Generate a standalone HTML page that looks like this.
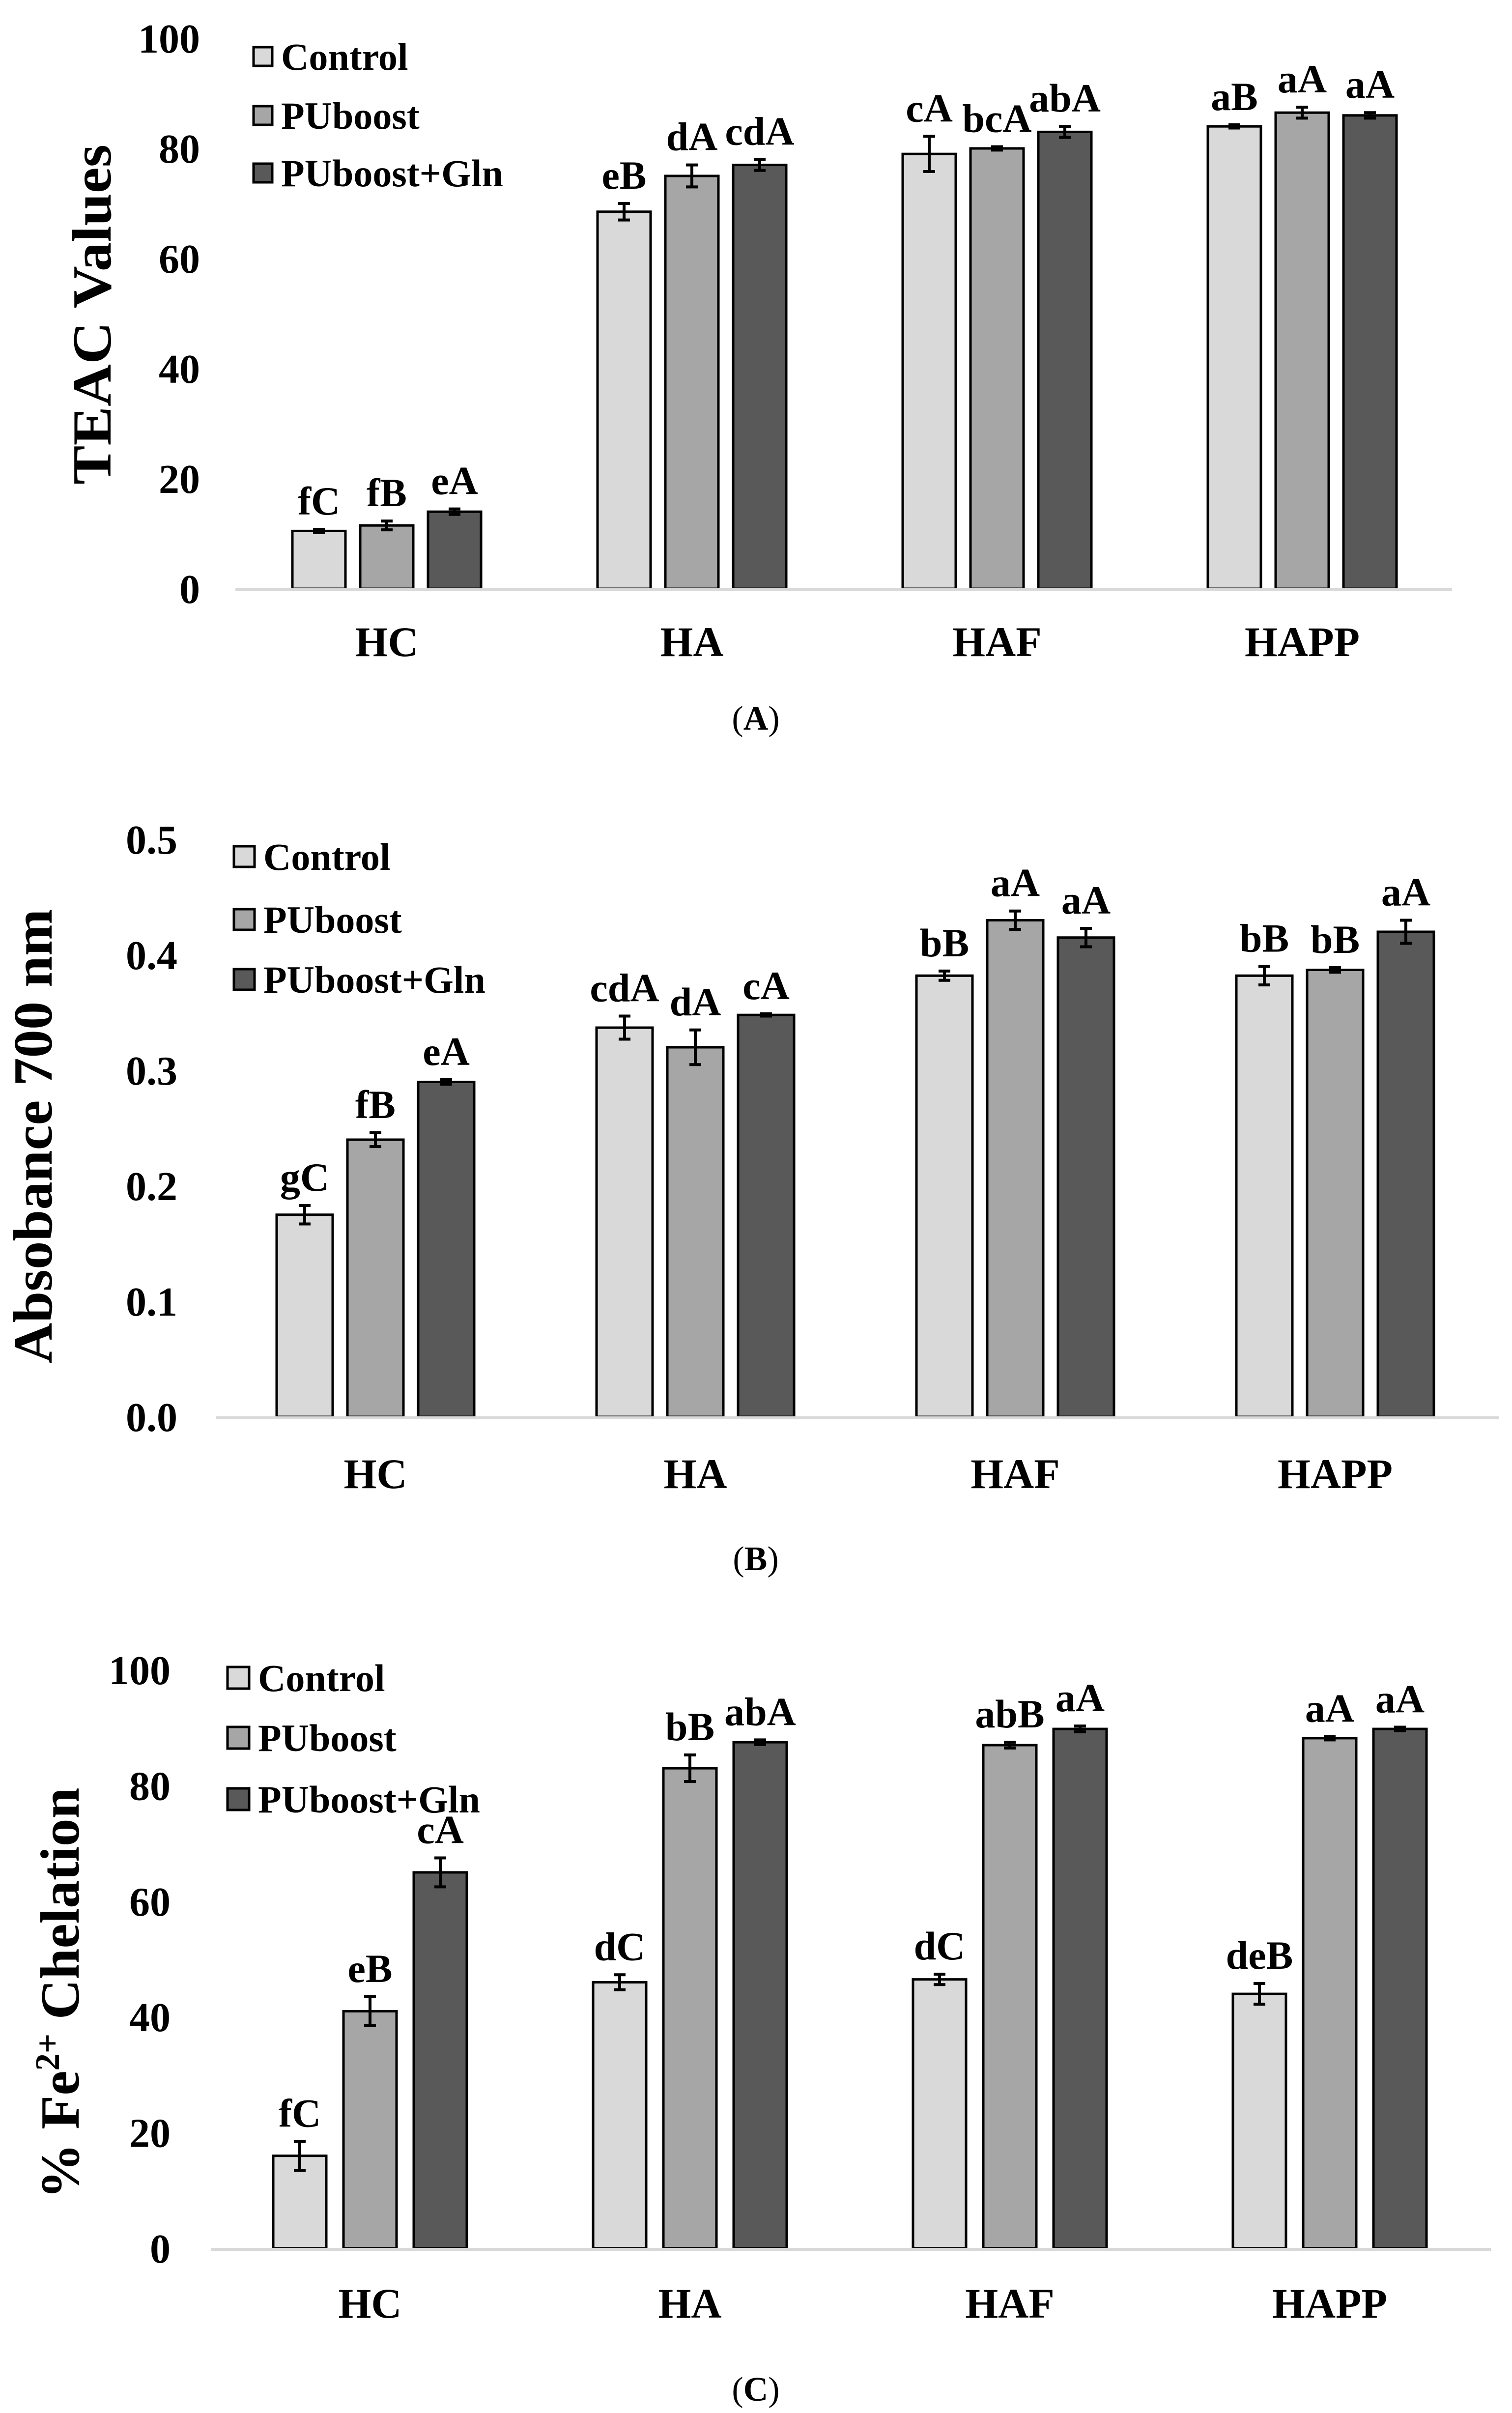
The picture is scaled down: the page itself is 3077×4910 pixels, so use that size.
<!DOCTYPE html>
<html><head><meta charset="utf-8">
<style>
html,body{margin:0;padding:0;background:#fff;}
svg{display:block;font-family:"Liberation Serif",serif;font-weight:bold;}
</style></head>
<body>
<svg id="fig" width="3077" height="4910" viewBox="0 0 3077 4910" xmlns="http://www.w3.org/2000/svg"></svg>
<script>
const categories = ["HC","HA","HAF","HAPP"];
const seriesNames = ["Control","PUboost","PUboost+Gln"];
const colors = ["#d9d9d9","#a6a6a6","#595959"];

// Panel A: TEAC
const aControl = [10.5, 68.5, 79, 84];
const aPUboost = [11.5, 75, 80, 86.5];
const aGln = [14, 77, 83, 86];
const aErrControl = [0.3, 1.5, 3.2, 0.3];
const aErrPUboost = [0.8, 2, 0.3, 1];
const aErrGln = [0.5, 1, 1, 0.5];
const aLabelsControl = ["fC","eB","cA","aB"];
const aLabelsPUboost = ["fB","dA","bcA","aA"];
const aLabelsGln = ["eA","cdA","abA","aA"];
const aTicks = ["0","20","40","60","80","100"];

// Panel B: Absorbance
const bControl = [0.175, 0.337, 0.382, 0.382];
const bPUboost = [0.24, 0.32, 0.43, 0.387];
const bGln = [0.29, 0.348, 0.415, 0.42];
const bErrControl = [0.008, 0.01, 0.004, 0.008];
const bErrPUboost = [0.006, 0.015, 0.008, 0.002];
const bErrGln = [0.002, 0.001, 0.008, 0.01];
const bLabelsControl = ["gC","cdA","bB","bB"];
const bLabelsPUboost = ["fB","dA","aA","bB"];
const bLabelsGln = ["eA","cA","aA","aA"];
const bTicks = ["0.0","0.1","0.2","0.3","0.4","0.5"];

// Panel C: Chelation
const cControl = [16, 46, 46.5, 44];
const cPUboost = [41, 83, 87, 88.2];
const cGln = [65, 87.5, 89.8, 89.8];
const cErrControl = [2.5, 1.3, 0.9, 1.8];
const cErrPUboost = [2.5, 2.3, 0.5, 0.3];
const cErrGln = [2.5, 0.4, 0.5, 0.3];
const cLabelsControl = ["fC","dC","dC","deB"];
const cLabelsPUboost = ["eB","bB","abB","aA"];
const cLabelsGln = ["cA","abA","aA","aA"];
const cTicks = ["0","20","40","60","80","100"];

const NS = "http://www.w3.org/2000/svg";
const svg = document.getElementById("fig");
function mk(tag, attrs, parent) {
  const e = document.createElementNS(NS, tag);
  for (const k in attrs) e.setAttribute(k, attrs[k]);
  (parent || svg).appendChild(e);
  return e;
}

const panels = [
  {id:"a", vals:[aControl,aPUboost,aGln], errs:[aErrControl,aErrPUboost,aErrGln], labs:[aLabelsControl,aLabelsPUboost,aLabelsGln], ticks:aTicks, max:100,
   y0:1198, y1:78, axX0:479, axX1:2955, firstBar:595, barW:108, barStep:138, groupStep:621, tickRight:407,
   title:"TEAC Values", titleX:225, titleY:640, titleLen:692, legX:516, legY:[115,235,352], legSq:38, catY:1335, cap:"(A)", capY:1485},
  {id:"b", vals:[bControl,bPUboost,bGln], errs:[bErrControl,bErrPUboost,bErrGln], labs:[bLabelsControl,bLabelsPUboost,bLabelsGln], ticks:bTicks, max:0.5,
   y0:2883, y1:1708, axX0:440, axX1:3050, firstBar:563, barW:114, barStep:144, groupStep:651, tickRight:361,
   title:"Absobance 700 nm", titleX:105, titleY:2312, titleLen:925, legX:476, legY:[1743,1871,1993], legSq:42, catY:3028, cap:"(B)", capY:3195},
  {id:"c", vals:[cControl,cPUboost,cGln], errs:[cErrControl,cErrPUboost,cErrGln], labs:[cLabelsControl,cLabelsPUboost,cLabelsGln], ticks:cTicks, max:100,
   y0:4575, y1:3398, axX0:429, axX1:3034, firstBar:556, barW:108, barStep:143, groupStep:651, tickRight:347,
   title:"% Fe2+ Chelation", titleX:160, titleY:4056, titleLen:837, legX:463, legY:[3414,3536,3661], legSq:44, catY:4716, cap:"(C)", capY:4885}
];

panels.forEach(p => {
  const g = mk("g", {});
  
  
  const yScale = v => p.y0 - (v / p.max) * (p.y0 - p.y1);
  const xBar = (gi, si) => p.firstBar + gi * p.groupStep + si * p.barStep;

  p.ticks.forEach((t, i) => {
    const v = parseFloat(t);
    const tx = mk("text", {x:p.tickRight, y:yScale(v)+29, "text-anchor":"end", "font-size":84, fill:"#000"}, g);
    tx.textContent = t;
    
    
  });

  p.vals.forEach((series, si) => {
    series.forEach((v, gi) => {
      const x = xBar(gi, si);
      const y = yScale(v);
      const r = mk("rect", {x:x, y:y, width:p.barW, height:p.y0 - y, fill:colors[si], stroke:"#000", "stroke-width":5}, g);
      
      
      const e = p.errs[si][gi];
      const cx = x + p.barW / 2;
      const yt = yScale(v + e), yb = yScale(v - e);
      const eb = mk("path", {d:`M${cx},${yt}V${yb}M${cx-12},${yt}H${cx+12}M${cx-12},${yb}H${cx+12}`, stroke:"#000", "stroke-width":6, fill:"none"}, g);
      
      
      const lt = mk("text", {x:cx, y:Math.min(yt, y) - 30, "text-anchor":"middle", "font-size":82, fill:"#000"}, g);
      lt.textContent = p.labs[si][gi];
      
      
    });
  });

  const ax = mk("line", {x1:p.axX0, x2:p.axX1, y1:p.y0+2, y2:p.y0+2, stroke:"#d9d9d9", "stroke-width":6}, g);
  
  

  categories.forEach((c, gi) => {
    const cx = xBar(gi, 1) + p.barW / 2;
    const t = mk("text", {x:cx, y:p.catY, "text-anchor":"middle", "font-size":86, fill:"#000"}, g);
    t.textContent = c;
    
    
  });

  const yt = mk("text", {x:0, y:0, transform:`translate(${p.titleX},${p.titleY}) rotate(-90)`, "text-anchor":"middle", "font-size":112, fill:"#000", textLength:p.titleLen, lengthAdjust:"spacingAndGlyphs"}, g);
  if (p.id === "c") {
    yt.appendChild(document.createTextNode("% Fe"));
    const sup = mk("tspan", {"font-size":70, dy:-40}, yt);
    sup.textContent = "2+";
    const rest = mk("tspan", {dy:40}, yt);
    rest.textContent = " Chelation";
  } else {
    yt.textContent = p.title;
  }
  
  

  seriesNames.forEach((n, si) => {
    const ly = p.legY[si];
    const sq = mk("rect", {x:p.legX, y:ly - p.legSq/2, width:p.legSq, height:p.legSq, fill:colors[si], stroke:"#000", "stroke-width":5}, g);
    
    
    const lt = mk("text", {x:p.legX + p.legSq + 18, y:ly + 27, "font-size":78, fill:"#000"}, g);
    lt.textContent = n;
    
    
  });

  const cap = mk("text", {x:1538, y:p.capY, "text-anchor":"middle", "font-size":70, fill:"#000", "font-weight":"normal"}, g);
  cap.textContent = "(";
  const bl = mk("tspan", {"font-weight":"bold"}, cap);
  bl.textContent = p.cap.slice(1, 2);
  const cl = mk("tspan", {"font-weight":"normal"}, cap);
  cl.textContent = ")";
  
  
});
</script>
</body></html>
